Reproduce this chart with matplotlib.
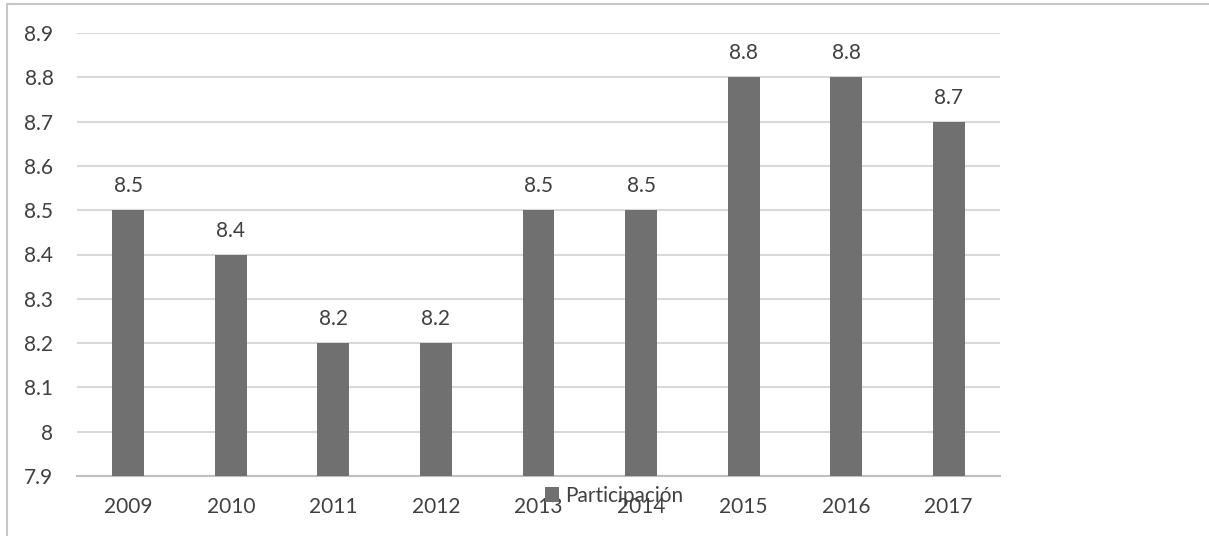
import matplotlib.pyplot as plt
from matplotlib.patches import Rectangle
import numpy as np

# datos
years = ["2009", "2010", "2011", "2012", "2013", "2014", "2015", "2016", "2017"]
values = [8.5, 8.4, 8.2, 8.2, 8.5, 8.5, 8.8, 8.8, 8.7]
y_ticks = [7.9, 8.0, 8.1, 8.2, 8.3, 8.4, 8.5, 8.6, 8.7, 8.8, 8.9]
y_labels = ["7.9", "8", "8.1", "8.2", "8.3", "8.4", "8.5", "8.6", "8.7", "8.8", "8.9"]
series_name = "Participación"

plt.rcParams['font.family'] = ['Lato', 'DejaVu Sans']
W, H = 1209, 536
FS = 15
fig = plt.figure(figsize=(W / 100, H / 100), dpi=100)

# borde del grafico
fig.patches.append(Rectangle((7 / W, -0.1), 1.2, 1 - 4 / H + 0.1, transform=fig.transFigure,
                             fill=False, edgecolor="#c8c8c8", linewidth=1.5))

ax = fig.add_axes([77 / W, 1 - 476 / H, (1000 - 77) / W, (476 - 33) / H])
x = np.arange(len(years))
bars = ax.bar(x, values, width=0.31, color="#707070", zorder=3, label=series_name)

ax.set_xlim(-0.5, len(years) - 0.5)
ax.set_ylim(7.9, 8.9)
ax.set_yticks(y_ticks)
ax.set_yticklabels(y_labels)
ax.set_xticks(x)
ax.set_xticklabels(years)
ax.grid(axis="y", color="#d9d9d9", linewidth=1.5, zorder=0)
for s in ["top", "right", "left"]:
    ax.spines[s].set_visible(False)
ax.spines["bottom"].set_color("#c0c0c0")
ax.spines["bottom"].set_linewidth(1.5)
ax.tick_params(axis="both", length=0, labelsize=FS, colors="#404040")
ax.tick_params(axis="y", pad=17)
ax.tick_params(axis="x", pad=15)

for xi, v in zip(x, values):
    ax.annotate(f"{v:.1f}", (xi, v), xytext=(0, 10), textcoords="offset points",
                ha="center", va="bottom", fontsize=FS, color="#404040")

# la leyenda se encima con las etiquetas como en el original
fig.legend(handles=[bars], labels=[series_name], loc="center", bbox_to_anchor=(614 / W, 1 - 496 / H),
           frameon=False, fontsize=FS, labelcolor="#404040", handlelength=0.7, handleheight=0.7,
           handletextpad=0.3, borderpad=0)

fig.savefig("out.png", dpi=100)
